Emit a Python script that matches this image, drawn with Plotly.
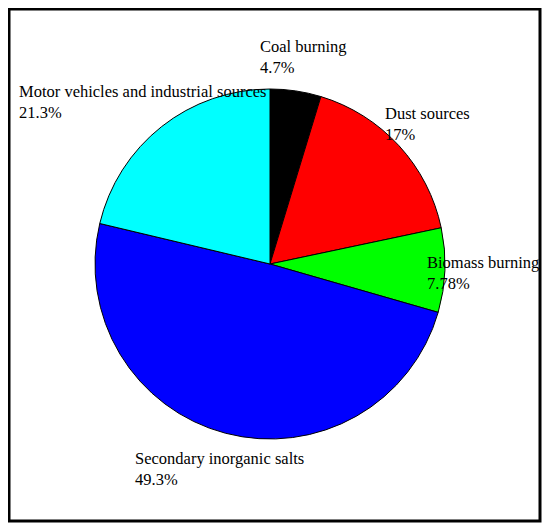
import plotly.graph_objects as go

labels = ["Coal burning", "Dust sources", "Biomass burning",
          "Secondary inorganic salts", "Motor vehicles and industrial sources"]
values = [4.7, 17, 7.78, 49.3, 21.3]
colors = ["#000000", "#ff0000", "#00ff00", "#0000ff", "#00ffff"]

# label anchor points in pixels (left edge, vertical middle of the two lines)
label_px = [(258, 57), (383, 124), (425, 273), (133, 469), (17, 102)]

# page body has an 8px margin, so shift everything up/left by that
OFF = 8
W, H = 550 - OFF, 530 - OFF
cx, cy, r = 270 - OFF, 264 - OFF, 175

fig = go.Figure()
fig.add_trace(go.Pie(
    labels=labels, values=values, sort=False, direction="clockwise",
    rotation=0, textinfo="none", hoverinfo="label+percent",
    marker=dict(colors=colors, line=dict(color="black", width=1)),
    domain=dict(x=[(cx - r) / W, (cx + r) / W],
                y=[(H - cy - r) / H, (H - cy + r) / H]),
    showlegend=False,
))

for lab, val, (px, py) in zip(labels, values, label_px):
    fig.add_annotation(
        x=(px - OFF) / W, y=1 - (py - OFF) / H, xref="paper", yref="paper",
        xanchor="left", yanchor="middle", align="left", showarrow=False,
        text=f"{lab}<br>{val:g}%",
        font=dict(family="Liberation Serif", size=16.5, color="black"),
    )

fig.add_shape(type="rect", xref="paper", yref="paper",
              x0=(9 - OFF) / W, x1=(540 - OFF) / W,
              y0=1 - (521 - OFF) / H, y1=1 - (9 - OFF) / H,
              line=dict(color="black", width=3))

fig.update_layout(width=W, height=H, margin=dict(l=0, r=0, t=0, b=0),
                  paper_bgcolor="white", plot_bgcolor="white")
fig.write_html("out.html")
